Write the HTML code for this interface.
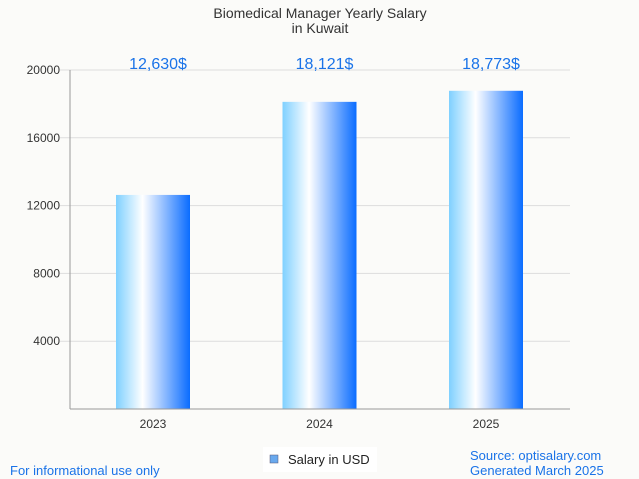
<!DOCTYPE html>
<html><head><meta charset="utf-8"><style>
body{margin:0;background:#fbfbf9;font-family:"Liberation Sans",sans-serif;}
svg{display:block}
</style></head><body>
<svg id="c" width="639" height="479">
<defs><linearGradient id="g" x1="0" x2="1" y1="0" y2="0">
<stop offset="0" stop-color="#7fd0ff"/><stop offset="0.36" stop-color="#ffffff"/><stop offset="1" stop-color="#0a6cff"/>
</linearGradient></defs>
<rect width="639" height="479" fill="#fbfbf9"/>
<text x="320" y="18" text-anchor="middle" font-size="14" fill="#333">Biomedical Manager Yearly Salary</text>
<text x="320" y="33" text-anchor="middle" font-size="14" fill="#333">in Kuwait</text>
<g id="grid"></g><g id="bars"></g>
<line x1="70" y1="70" x2="70" y2="409" stroke="#999"/>
<line x1="70" y1="409" x2="570" y2="409" stroke="#999"/>
<rect x="263" y="447" width="114" height="25" fill="#fff"/>
<rect x="270" y="455" width="8" height="8" fill="#69a9ee" stroke="#557" stroke-width="0.5"/>
<text x="288" y="464" font-size="13" fill="#222">Salary in USD</text>
<text x="10" y="475" font-size="13" fill="#1a73e8">For informational use only</text>
<text x="470" y="460" font-size="13" fill="#1a73e8">Source: optisalary.com</text>
<text x="470" y="475" font-size="13" fill="#1a73e8">Generated March 2025</text>
</svg>
<script>
const categories=["2023","2024","2025"];
const values=[12630,18121,18773];
const labels=["12,630$","18,121$","18,773$"];
const ticks=[4000,8000,12000,16000,20000];
const NS="http://www.w3.org/2000/svg";
const y=v=>409-v/20000*339;
const cx=i=>153+i*166.5;
const grid=document.getElementById('grid'),bars=document.getElementById('bars');
function mk(t,a,p){const e=document.createElementNS(NS,t);for(const k in a)e.setAttribute(k,a[k]);p.appendChild(e);return e;}
ticks.forEach(t=>{
 const l=mk('line',{x1:60,x2:570,y1:y(t),y2:y(t),stroke:'#ddd'},grid);
 
 
 const tx=mk('text',{x:60,y:y(t)+4,'text-anchor':'end','font-size':12,fill:'#333'},grid);tx.textContent=t;
 
 
});
categories.forEach((c,i)=>{
 const r=mk('rect',{x:cx(i)-37,y:y(values[i]),width:74,height:409-y(values[i]),fill:'url(#g)'},bars);
 
 
 const v=mk('text',{x:cx(i)+5,y:69,'text-anchor':'middle','font-size':16,fill:'#1a73e8'},bars);v.textContent=labels[i];
 
 
 const t=mk('text',{x:cx(i),y:428,'text-anchor':'middle','font-size':12,fill:'#333'},bars);t.textContent=c;
 
 
});
</script>
</body></html>
